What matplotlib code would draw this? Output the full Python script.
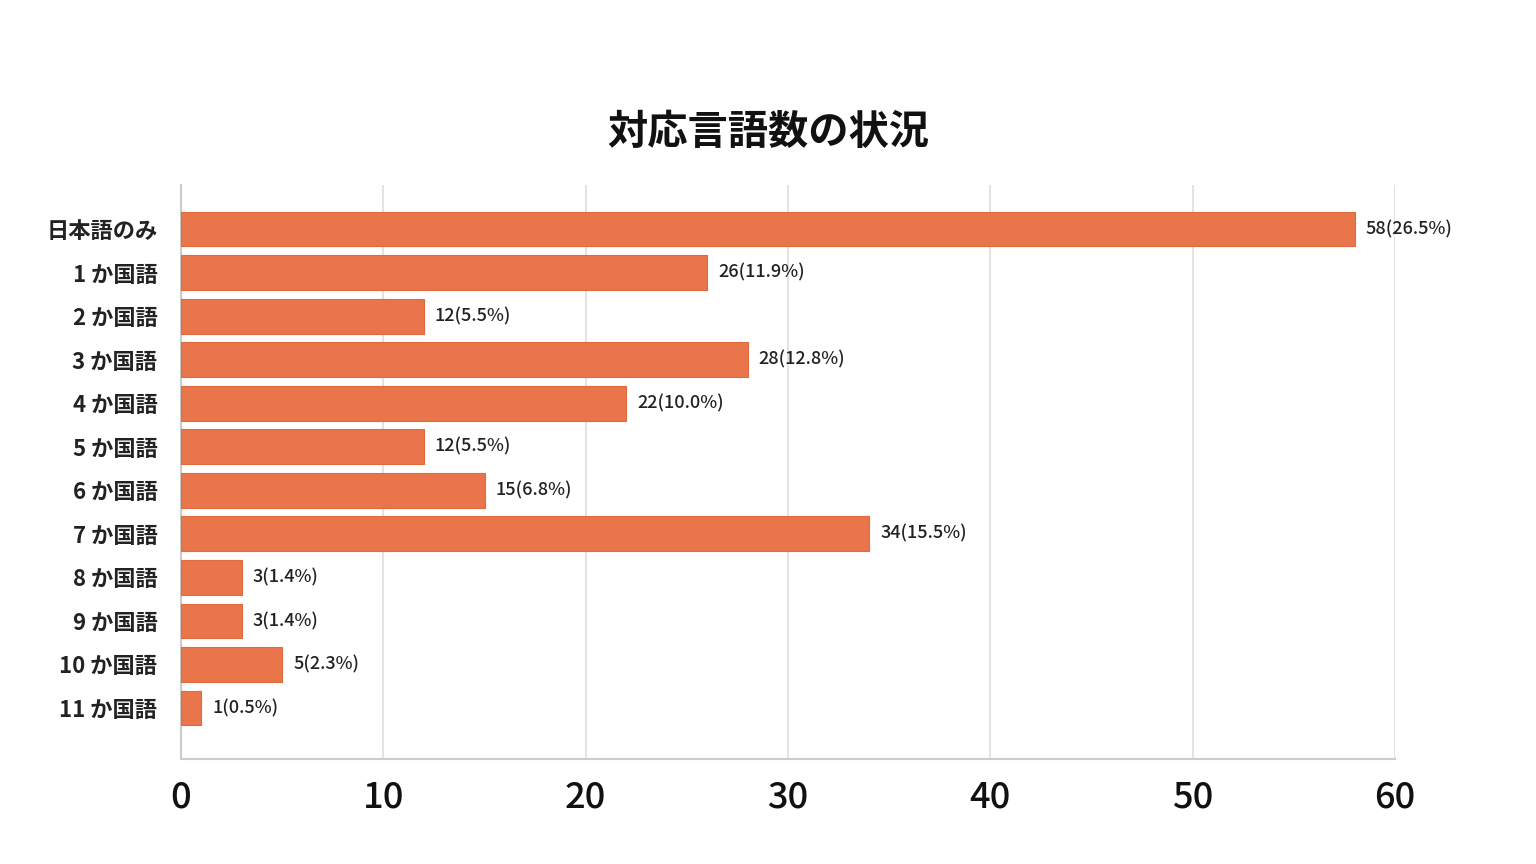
import matplotlib
matplotlib.use("Agg")
import matplotlib.pyplot as plt

plt.rcParams['font.family'] = ['Noto Sans CJK JP', 'DejaVu Sans']

categories = ["日本語のみ", "1 か国語", "2 か国語", "3 か国語", "4 か国語", "5 か国語",
              "6 か国語", "7 か国語", "8 か国語", "9 か国語", "10 か国語", "11 か国語"]
counts = [58, 26, 12, 28, 22, 12, 15, 34, 3, 3, 5, 1]
percents = ["26.5", "11.9", "5.5", "12.8", "10.0", "5.5", "6.8", "15.5", "1.4", "1.4", "2.3", "0.5"]
xticks = [0, 10, 20, 30, 40, 50, 60]
title = "対応言語数の状況"

fig = plt.figure(figsize=(15.36, 8.64), dpi=100)
ax = fig.add_axes([181/1536, 1-759/864, (1395-181)/1536, (759-185)/864])

bar_color = "#E8764A"
y = list(range(len(categories)))
ax.barh(y, counts, height=0.8, color=bar_color, edgecolor="#E06A3C", linewidth=0.8, zorder=3)

for yi, c, p in zip(y, counts, percents):
    ax.annotate(f"{c}({p}%)", xy=(c, yi), xytext=(8, 0), textcoords="offset points",
                va="center", ha="left", fontsize=13, color="#222222", fontweight="medium")

ax.set_ylim(12.17, -1.01)
ax.set_xlim(0, 60)
ax.set_yticks(y)
ax.set_yticklabels(categories, fontsize=16, fontweight="bold", color="#222222")
ax.set_xticks(xticks)
ax.set_xticklabels([str(t) for t in xticks], fontsize=26, fontweight="medium", color="#111111")
ax.tick_params(axis="both", length=0)
ax.tick_params(axis="x", pad=15)
ax.tick_params(axis="y", pad=17)

ax.grid(axis="x", color="#E3E3E3", linewidth=1.5, zorder=0)
for s in ["top", "right"]:
    ax.spines[s].set_visible(False)
for s in ["left", "bottom"]:
    ax.spines[s].set_color("#CCCCCC")
    ax.spines[s].set_linewidth(1.5)

fig.text(768/1536, 1-132/864, title, ha="center", va="center", fontsize=29, fontweight="bold", color="#111111")

fig.savefig("out.png", dpi=100, facecolor="white")
